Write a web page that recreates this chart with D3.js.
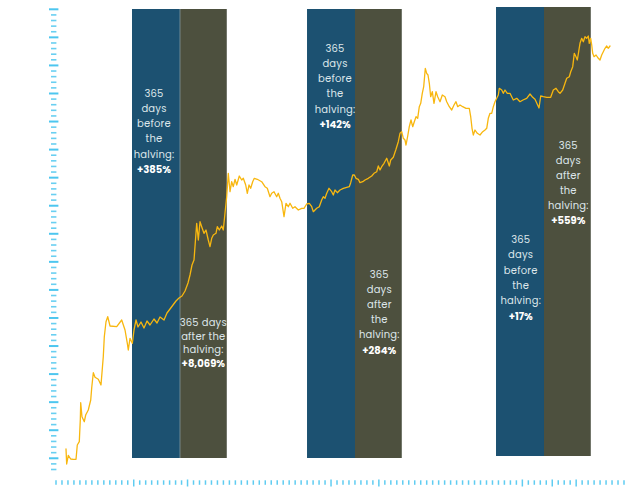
<!DOCTYPE html>
<html><head><meta charset="utf-8">
<script src="https://cdn.jsdelivr.net/npm/d3@7"></script>
<style>html,body{margin:0;padding:0;background:#fff;} svg{display:block}</style>
</head><body>
<svg id="chart" width="640" height="502"></svg>
<script>
// ---------- DATA ----------
// time in decimal years
const timeYears = [2010.570,2010.584,2010.617,2010.666,2010.719,2010.775,2010.801,2010.842,2010.863,2010.871,
2010.897,2010.945,2010.973,2011.026,2011.076,2011.096,2011.129,2011.164,2011.231,2011.286,
2011.333,2011.354,2011.389,2011.424,2011.471,2011.608,2011.710,2011.778,2011.825,2011.845,
2011.880,2011.927,2011.962,2012.003,2012.044,2012.105,2012.166,2012.228,2012.289,2012.371,
2012.433,2012.494,2012.576,2012.637,2012.699,2012.760,2012.821,2012.883,2012.944,2013.006,
2013.067,2013.108,2013.149,2013.190,2013.245,2013.278,2013.313,2013.347,2013.394,2013.435,
2013.482,2013.517,2013.552,2013.585,2013.640,2013.667,2013.708,2013.757,2013.789,2013.824,
2013.859,2013.892,2013.927,2013.961,2013.994,2014.029,2014.064,2014.117,2014.166,2014.199,
2014.248,2014.281,2014.316,2014.350,2014.391,2014.424,2014.485,2014.575,2014.643,2014.690,
2014.745,2014.780,2014.827,2014.882,2014.915,2014.950,2014.985,2015.032,2015.073,2015.120,
2015.155,2015.210,2015.257,2015.325,2015.394,2015.441,2015.496,2015.550,2015.599,2015.632,
2015.701,2015.754,2015.803,2015.836,2015.871,2015.906,2015.953,2016.008,2016.041,2016.076,
2016.123,2016.178,2016.246,2016.315,2016.368,2016.397,2016.438,2016.471,2016.505,2016.553,
2016.587,2016.643,2016.690,2016.757,2016.827,2016.874,2016.929,2016.962,2016.997,2017.031,
2017.079,2017.134,2017.187,2017.216,2017.269,2017.324,2017.371,2017.406,2017.441,2017.474,
2017.508,2017.529,2017.564,2017.596,2017.631,2017.666,2017.699,2017.734,2017.768,2017.801,
2017.830,2017.862,2017.891,2017.924,2017.952,2017.979,2018.006,2018.034,2018.067,2018.102,
2018.143,2018.178,2018.225,2018.272,2018.327,2018.362,2018.415,2018.464,2018.511,2018.552,
2018.587,2018.634,2018.689,2018.757,2018.824,2018.853,2018.880,2018.906,2018.941,2018.988,
2019.043,2019.099,2019.146,2019.181,2019.213,2019.248,2019.283,2019.316,2019.350,2019.385,
2019.418,2019.438,2019.488,2019.520,2019.555,2019.602,2019.657,2019.692,2019.725,2019.795,
2019.862,2019.923,2019.999,2020.067,2020.122,2020.169,2020.251,2020.286,2020.339,2020.409,
2020.490,2020.544,2020.599,2020.646,2020.681,2020.736,2020.783,2020.818,2020.871,2020.900,
2020.941,2020.973,2021.008,2021.035,2021.063,2021.090,2021.125,2021.158,2021.192,2021.227,
2021.260,2021.280,2021.309,2021.330,2021.350,2021.377,2021.418,2021.465,2021.499,2021.534,
2021.567,2021.602,2021.637,2021.669,2021.704];
// price level (log-style index, arbitrary units)
const priceIndex = [2.05,0.55,1.42,1.05,1.02,1.02,2.45,2.78,5.02,6.68,
5.28,4.78,5.45,5.95,6.95,8.15,9.68,9.22,9.02,8.45,
11.28,13.28,14.78,15.28,14.35,14.28,14.95,13.95,12.62,11.95,
13.12,12.62,13.95,14.95,14.25,14.75,14.15,14.85,14.45,15.05,
14.65,15.25,14.95,15.65,16.05,16.45,16.85,17.15,17.35,17.85,
18.65,19.45,20.45,20.95,24.62,22.95,24.78,24.28,23.62,23.95,
22.95,22.28,23.12,23.45,23.62,24.28,23.95,24.35,23.95,25.62,
27.28,29.62,27.78,28.78,28.28,29.02,28.45,29.35,28.95,29.12,
28.45,27.62,28.45,28.12,28.78,29.12,29.02,28.78,28.28,28.12,
27.28,27.62,27.78,27.28,27.62,27.12,26.78,25.28,26.62,26.28,
26.62,26.12,26.28,25.95,26.12,26.12,26.55,26.62,26.28,25.78,
26.12,26.28,26.95,27.28,27.12,27.62,28.12,27.78,27.45,27.95,
27.68,27.95,28.12,28.22,28.28,28.68,29.45,29.45,29.12,29.02,
28.68,28.78,28.95,29.12,29.35,29.62,29.78,30.35,29.95,30.28,
30.62,31.12,30.35,30.95,31.22,32.02,32.78,33.62,33.78,33.12,
32.95,32.45,33.35,34.28,34.95,34.28,34.78,35.28,35.12,36.28,
36.62,37.62,38.28,40.12,39.62,39.45,38.62,37.28,37.78,36.62,
37.78,37.28,36.78,37.45,37.28,36.78,36.28,35.95,36.45,36.78,
36.28,36.45,36.28,36.12,36.12,35.28,34.12,33.45,33.95,33.62,
33.45,33.78,33.95,34.12,35.12,35.62,35.62,36.28,36.78,37.12,
37.45,38.12,37.95,37.62,37.95,37.62,37.62,37.28,36.95,37.12,
36.78,36.95,37.12,37.55,37.22,37.02,36.15,37.35,37.28,37.22,
37.22,37.95,38.12,37.78,37.62,37.95,38.62,39.12,39.28,39.78,
40.28,41.62,41.28,40.95,41.78,42.62,43.12,42.78,43.28,43.12,
43.35,42.62,43.12,42.45,41.62,41.28,41.45,41.12,40.95,41.45,
41.78,42.12,42.35,42.12,42.35];

const windowStart = [2011.921, 2015.503, 2019.371];
const halvings    = [2012.903, 2016.485, 2020.353];
const windowEnd   = [2013.865, 2017.447, 2021.315];

const beforeLabels = [["365","days","before","the","halving:"],
                      ["365","days","before","the","halving:"],
                      ["365","days","before","the","halving:"]];
const beforeValues = ["+385%","+142%","+17%"];
const afterLabels  = [["365 days","after the","halving:"],
                      ["365","days","after","the","halving:"],
                      ["365","days","after","the","halving:"]];
const afterValues  = ["+8,069%","+284%","+559%"];

const yTickCount = 82;   // number of tick intervals on the left ruler
const xTickCount = 95;   // number of tick intervals on the bottom ruler
const xMajorTicks = [13, 22, 46, 54, 78, 83, 87];

// ---------- LAYOUT ----------
const svg = d3.select("#chart");
const plot = {left: 66, right: 610, top: 9.5, bottom: 469.5};
const bandTop = [9, 9, 7], bandBottom = [458, 458, 456];
const beforeLayout = [{cx:154, y0:93.3, gap:15.2},{cx:335, y0:48.3, gap:15.2},{cx:520.7, y0:239.3, gap:15.35}];
const afterLayout  = [{cx:203.3, y0:322.3, gap:13.8},{cx:379.3, y0:274, gap:15.2},{cx:568.3, y0:145, gap:15.1}];
const colors = {blue:"#1c5171", olive:"#4d503e", line:"#f8b70f", text:"#dde6ea", tick:"#43c3ee"};

const x = d3.scaleLinear().domain([timeYears[0], timeYears[timeYears.length-1]]).range([plot.left, plot.right]);
const y = d3.scaleLinear().domain([0, 46]).range([plot.bottom, plot.top]);

const defs = svg.append("defs");
const gb = defs.append("linearGradient").attr("id","gBottom").attr("x1","0%").attr("x2","100%");
[[0,"#ffffff"],[0.08,"#e2f5fc"],[0.3,"#8fd9f4"],[0.45,"#4cc6ef"],[0.62,"#5ccaef"],[0.85,"#cdeffa"],[1,"#ffffff"]]
  .forEach(([o,c])=>gb.append("stop").attr("offset",o).attr("stop-color",c));
const gl = defs.append("linearGradient").attr("id","gLeft").attr("x1","0").attr("x2","0").attr("y1","0").attr("y2","1");
[[0,"#e6f7fd"],[0.5,"#b5e6f7"],[1,"#7fd3f2"]].forEach(([o,c])=>gl.append("stop").attr("offset",o).attr("stop-color",c));

// bands
const bands = halvings.map((h,i)=>({i, s:windowStart[i], h, e:windowEnd[i]}));
const gBands = svg.append("g");
gBands.selectAll("rect.before").data(bands).join("rect").attr("class","before")
  .attr("x", d=>x(d.s)).attr("width", d=>x(d.h)-x(d.s))
  .attr("y", d=>bandTop[d.i]).attr("height", d=>bandBottom[d.i]-bandTop[d.i])
  .attr("fill", colors.blue);
gBands.selectAll("rect.after").data(bands).join("rect").attr("class","after")
  .attr("x", d=>x(d.h)).attr("width", d=>x(d.e)-x(d.h))
  .attr("y", d=>bandTop[d.i]).attr("height", d=>bandBottom[d.i]-bandTop[d.i])
  .attr("fill", colors.olive);
gBands.selectAll("line.edge").data(bands).join("line").attr("class","edge")
  .attr("x1", d=>x(d.e)-0.5).attr("x2", d=>x(d.e)-0.5)
  .attr("y1", d=>bandTop[d.i]).attr("y2", d=>bandBottom[d.i])
  .attr("stroke","#8d938a").attr("stroke-opacity",0.6).attr("stroke-width",1);
gBands.selectAll("line.div").data(bands.slice(0,1)).join("line").attr("class","div")
  .attr("x1", d=>x(d.h)).attr("x2", d=>x(d.h))
  .attr("y1", d=>bandTop[d.i]).attr("y2", d=>bandBottom[d.i])
  .attr("stroke","#8aa0a8").attr("stroke-opacity",0.7).attr("stroke-width",1);

// left ruler
const yt = d3.scaleLinear().domain([0, yTickCount]).range([469.5, 9.3]);
const axX = 53.7;
svg.append("line").attr("x1",axX).attr("x2",axX).attr("y1",0).attr("y2",471)
  .attr("stroke","url(#gLeft)").attr("stroke-width",2);
svg.append("g").selectAll("line").data(d3.range(0, yTickCount+1)).join("line")
  .attr("x1", d=> d%5===2 ? axX-4.7 : axX-2.7)
  .attr("x2", d=> d%5===2 ? axX+4.7 : axX+2.7)
  .attr("y1", d=>yt(d)).attr("y2", d=>yt(d))
  .attr("stroke", colors.tick).attr("stroke-width", d=> d%5===2 ? 2 : 1.6)
  .attr("stroke-opacity", d=> d%5===2 ? 0.95 : 0.8);

// bottom ruler
svg.append("line").attr("x1",55).attr("x2",640).attr("y1",477.5).attr("y2",477.5)
  .attr("stroke","url(#gBottom)").attr("stroke-width",2);
const xt = d3.scaleLinear().domain([0, xTickCount]).range([56, 624]);
svg.append("g").selectAll("line").data(d3.range(0, xTickCount+1)).join("line")
  .attr("x1", d=>xt(d)).attr("x2", d=>xt(d))
  .attr("y1", d=> xMajorTicks.includes(d) ? 479.5 : 480.3)
  .attr("y2", d=> xMajorTicks.includes(d) ? 486.5 : 484.8)
  .attr("stroke", colors.tick).attr("stroke-width",1.5).attr("stroke-opacity",0.85);

// price line
const pts = timeYears.map((t,i)=>[t, priceIndex[i]]);
svg.append("path").datum(pts)
  .attr("d", d3.line().x(d=>x(d[0])).y(d=>y(d[1])))
  .attr("fill","none").attr("stroke",colors.line).attr("stroke-width",1.3)
  .attr("stroke-linejoin","round").attr("stroke-linecap","round");

// labels
const font = "Poppins, 'Open Sans', sans-serif";
function drawLabel(lines, value, lay){
  const g = svg.append("g").attr("font-family", font).attr("text-anchor","middle").attr("font-size", 10);
  lines.forEach((l,k)=>{
    g.append("text").attr("x", lay.cx).attr("y", lay.y0 + k*lay.gap).attr("dy","0.35em")
      .attr("fill", colors.text).attr("letter-spacing", 0.2).text(l);
  });
  g.append("text").attr("x", lay.cx).attr("y", lay.y0 + lines.length*lay.gap).attr("dy","0.35em")
    .attr("fill","#ffffff").attr("font-weight","bold").text(value);
}
bands.forEach(d=>{
  drawLabel(beforeLabels[d.i], beforeValues[d.i], beforeLayout[d.i]);
  drawLabel(afterLabels[d.i], afterValues[d.i], afterLayout[d.i]);
});
</script>
</body></html>
